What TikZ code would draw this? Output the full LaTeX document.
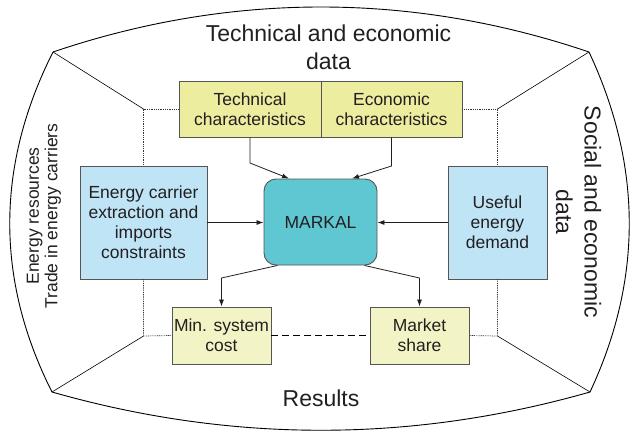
\documentclass[tikz,border=0pt]{standalone}
\usepackage{fontspec}
\setmainfont{Liberation Sans}
\usetikzlibrary{arrows.meta,calc}
\definecolor{ylw}{RGB}{237,237,160}
\definecolor{ylwl}{RGB}{243,244,198}
\definecolor{blu}{RGB}{190,228,246}
\definecolor{tealb}{RGB}{94,199,209}
\definecolor{bord}{RGB}{85,85,85}
\definecolor{txt}{RGB}{35,31,32}
\begin{document}
\begin{tikzpicture}[x=1pt,y=-1pt,
  every node/.style={text=txt,align=center,inner sep=0pt},
  boxfont/.style={font=\fontsize{17.5}{20}\selectfont},
  bigfont/.style={font=\fontsize{23}{28.5}\selectfont},
  box/.style={draw=bord,line width=0.9pt,rectangle,boxfont},
  arr/.style={draw=txt,line width=0.8pt,-{Latex[length=7pt,width=5pt]}},
  outl/.style={draw=black,line width=0.9pt},
  diag/.style={draw=black,line width=0.6pt},
  dotl/.style={draw=black!80,line width=0.7pt,dash pattern=on 0.9pt off 0.9pt},
  dashl/.style={draw=black,line width=0.8pt,dash pattern=on 7pt off 4pt}]
\useasboundingbox (0,0) rectangle (630,432);
% outer frame corners and inner corners
\coordinate (o1) at (53,52);
\coordinate (o2) at (589,52);
\coordinate (o3) at (590,392);
\coordinate (o4) at (52,392);
\coordinate (i1) at (143.5,109);
\coordinate (i2) at (497.5,109);
\coordinate (i3) at (497.5,336);
\coordinate (i4) at (143.5,336);
% outer curved frame
\draw[outl] (o1) .. controls (230,-8) and (412,-8) .. (o2);
\draw[outl] (o2) .. controls (642,165) and (643,279) .. (o3);
\draw[outl] (o3) .. controls (411,443) and (231,443) .. (o4);
\draw[outl] (o4) .. controls (-5,279) and (-4,165) .. (o1);
% diagonals
\draw[diag] (o1) -- (i1);
\draw[diag] (o2) -- (i2);
\draw[diag] (o3) -- (i3);
\draw[diag] (o4) -- (i4);
% boxes
\node[box,fill=ylw,minimum width=142pt,minimum height=56pt] (tech) at (250,109) {Technical\\characteristics};
\node[box,fill=ylw,minimum width=141pt,minimum height=56pt] (eco) at (391.5,109) {Economic\\characteristics};
\node[box,fill=blu,minimum width=127pt,minimum height=113pt] (lb) at (143.5,222.5) {Energy carrier\\extraction and\\imports\\constraints};
\node[box,fill=blu,minimum width=99pt,minimum height=113pt] (rb) at (497.5,222.5) {Useful\\energy\\demand};
\node[box,fill=tealb,rounded corners=12pt,minimum width=113pt,minimum height=86pt] (mk) at (320.5,222) {MARKAL};
\node[box,fill=ylwl,minimum width=99pt,minimum height=57pt] (mn) at (221.5,335.5) {Min. system\\cost};
\node[box,fill=ylwl,minimum width=99pt,minimum height=57pt] (ms) at (419.5,335.5) {Market\\share};
% dotted inner frame
\draw[dotl] (tech.west) -- (i1) -- (lb.north);
\draw[dotl] (eco.east) -- (i2) -- (rb.north);
\draw[dotl] (lb.south) -- (i4) -- (mn.west);
\draw[dotl] (rb.south) -- (i3) -- (ms.east);
\draw[dashl] (mn.east) -- (ms.west);
% arrows
\coordinate (t1) at (250,163);
\coordinate (e1) at (391.5,166);
\coordinate (m1) at (221.5,278);
\coordinate (m2) at (419.5,278);
\draw[arr] (tech.south) -- (t1) -- ($(mk.north)+(-31.5,0)$);
\draw[arr] (eco.south) -- (e1) -- ($(mk.north)+(31.5,0)$);
\draw[arr] (lb.east) -- (lb.east -| mk.west);
\draw[arr] (rb.west) -- (rb.west -| mk.east);
\draw[arr] ($(mk.south)+(-43,0)$) -- (m1) -- (mn.north);
\draw[arr] ($(mk.south)+(44,0)$) -- (m2) -- (ms.north);
% labels
\node[bigfont] (ttl) at (328.5,47.5) {Technical and economic\\data};
\node[bigfont] (res) at (321,398) {Results};
\node[bigfont,rotate=-90] (soc) at (578.5,212) {Social and economic\\data};
\node[boxfont,font=\fontsize{17.5}{18.5}\selectfont,rotate=90] (enr) at (44,216) {Energy resources\\Trade in energy carriers};
\end{tikzpicture}
\end{document}
